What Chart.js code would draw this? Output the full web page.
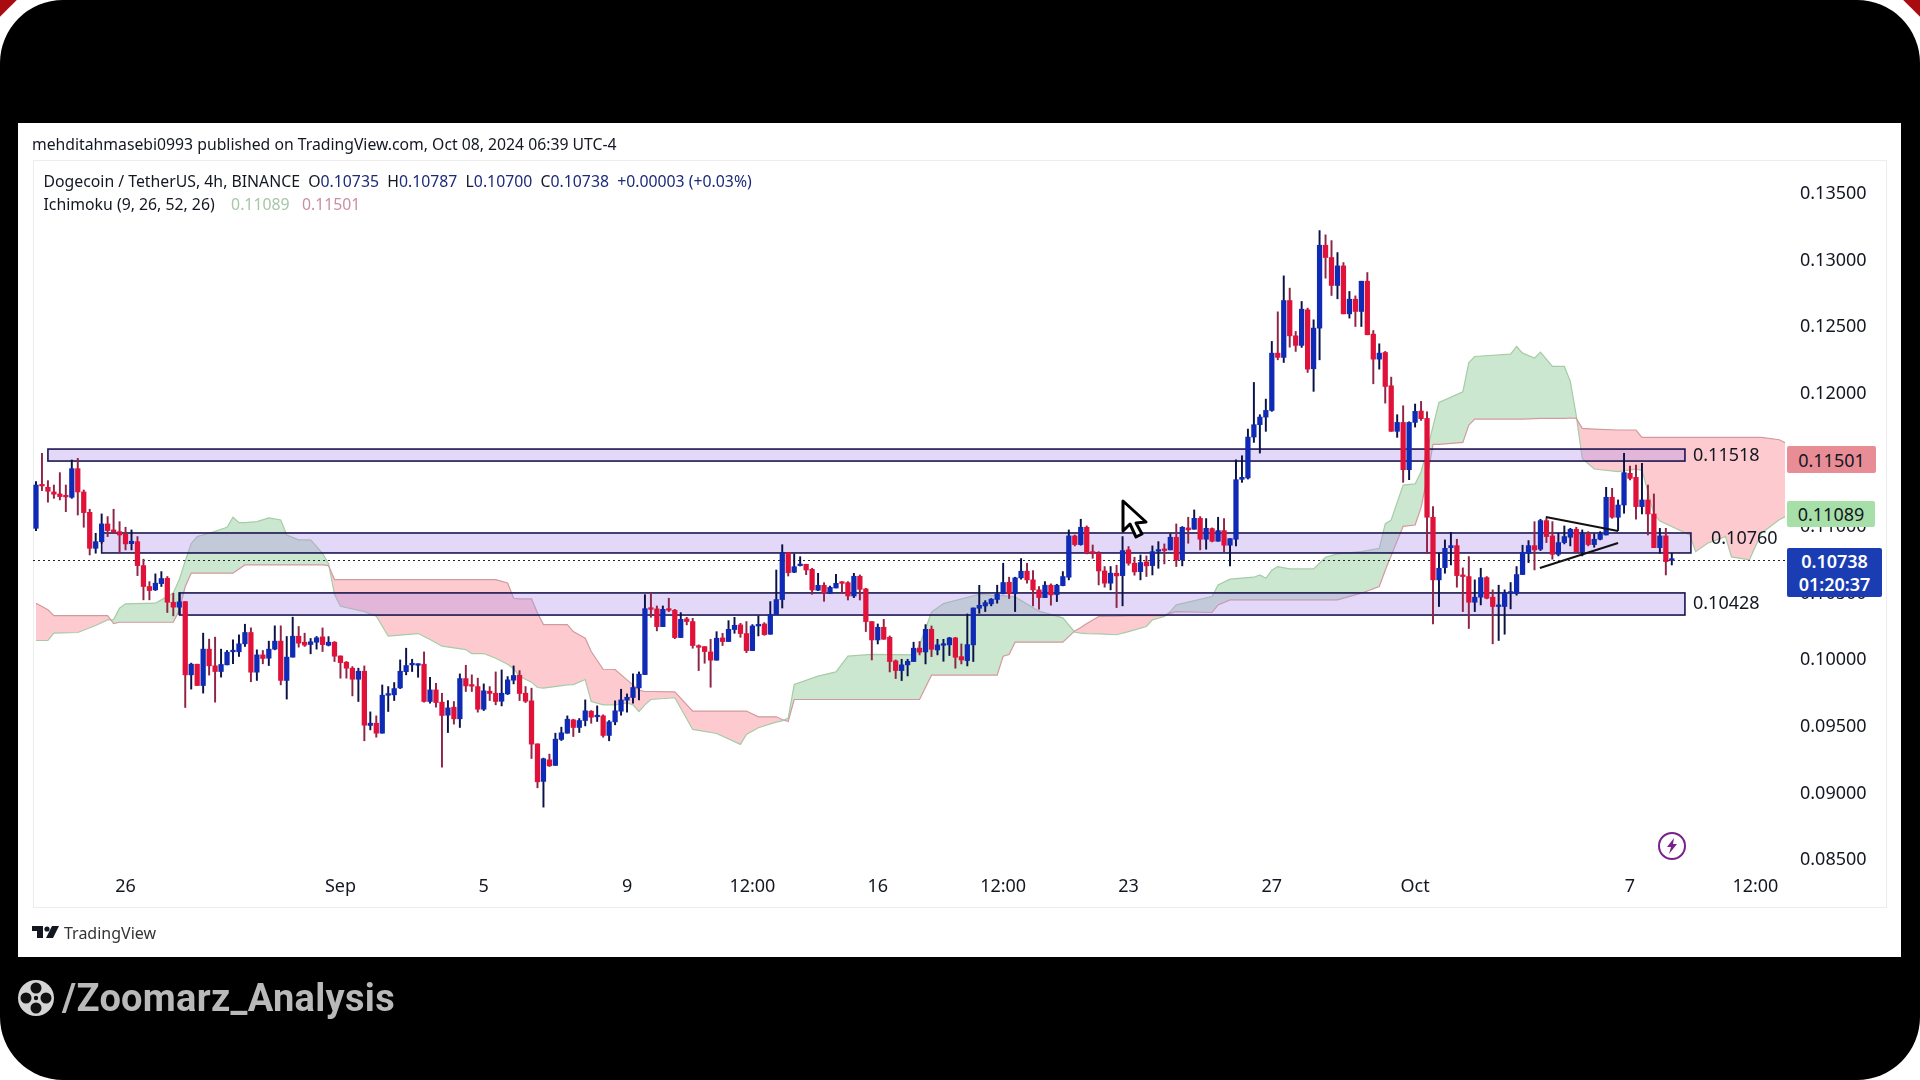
<!DOCTYPE html>
<html><head><meta charset="utf-8">
<script src="https://cdn.jsdelivr.net/npm/chart.js@4/dist/chart.umd.js"></script>
<style>
html,body{margin:0;padding:0;width:1920px;height:1080px;overflow:hidden;background:#fff;position:relative}
.abs{position:absolute;white-space:nowrap}
.t{font-family:"Noto Sans",sans-serif;color:#131722;line-height:1}
#frame{position:absolute;left:0;top:0;width:1920px;height:1080px;background:#000;border-radius:63px}
#panel{position:absolute;left:18px;top:123px;width:1883px;height:834px;background:#fff}
#inner{position:absolute;left:32.5px;top:160px;width:1854px;height:748px;border:1px solid #ececec;box-sizing:border-box}
canvas{position:absolute;left:0;top:0}
.tag{position:absolute;display:flex;align-items:center;justify-content:center;font-family:"Noto Sans",sans-serif;font-size:18px;color:#131722;border-radius:2px}
</style></head><body>
<div class="abs" style="left:1896px;top:0;width:24px;height:24px;background:#a80c10;clip-path:polygon(30% 0,100% 0,100% 70%)"></div>
<div class="abs" style="left:0;top:0;width:24px;height:24px;background:#a80c10;clip-path:polygon(0 0,70% 0,0 70%)"></div>
<div id="frame"></div><div id="panel"></div><div id="inner"></div>
<canvas id="c" width="1920" height="1080"></canvas>

<div class="abs t" id="h0" style="left:32px;top:137px;font-size:15.76px">mehditahmasebi0993 published on TradingView.com, Oct 08, 2024 06:39 UTC-4</div>
<div class="abs t" style="left:43.5px;top:174px;font-size:15.8px">Dogecoin / TetherUS, 4h, BINANCE&nbsp; O<span style="color:#1c2a7a">0.10735</span>&nbsp; H<span style="color:#1c2a7a">0.10787</span>&nbsp; L<span style="color:#1c2a7a">0.10700</span>&nbsp; C<span style="color:#1c2a7a">0.10738</span>&nbsp; <span style="color:#1c2a7a">+0.00003 (+0.03%)</span></div>
<div class="abs t" style="left:43.5px;top:197px;font-size:15.8px">Ichimoku (9, 26, 52, 26)&nbsp;&nbsp;&nbsp; <span style="color:#a6c6a6">0.11089</span>&nbsp;&nbsp; <span style="color:#c98fa4">0.11501</span></div>

<div class="abs t" style="left:1693px;top:445px;font-size:18px">0.11518</div>
<div class="abs t" style="left:1711px;top:528px;font-size:18px">0.10760</div>
<div class="abs t" style="left:1693px;top:593px;font-size:18px">0.10428</div>

<div class="tag" style="left:1787px;top:446px;width:89px;height:27px;background:#e88c96">0.11501</div>
<div class="tag" style="left:1787px;top:501px;width:88px;height:26px;background:#a6dfa8">0.11089</div>
<div class="tag" style="left:1787px;top:548px;width:95px;height:49px;background:#1a3db4;color:#fff;line-height:23px;text-align:center;font-weight:600">0.10738<br>01:20:37</div>

<svg class="abs" style="left:1120px;top:498px" width="30" height="44"><path d="M3 3 L3 33 L10 26 L16 39 L22 36 L16 25 L26 24 Z" fill="#fff" stroke="#000" stroke-width="3" stroke-linejoin="round"/></svg>
<svg class="abs" style="left:1657px;top:831px" width="30" height="30"><circle cx="15" cy="15" r="13" fill="#fff" stroke="#7a1f8e" stroke-width="2"/><path d="M17 7 L10 16 L14 16 L12 23 L20 13 L16 13 Z" fill="#7a1f8e"/></svg>

<svg class="abs" style="left:32px;top:925px" width="28" height="15"><path d="M0 1 H11 V13 H5 V6 H0 Z" fill="#131722"/><circle cx="15" cy="4" r="2.6" fill="#131722"/><path d="M20 1 H27 L21 13 H14 Z" fill="#131722"/></svg>
<div class="abs t" style="left:64px;top:925px;font-size:16px;color:#333">TradingView</div>

<svg class="abs" style="left:14px;top:976px" width="44" height="44"><circle cx="22" cy="22" r="18" fill="#d4d4d4"/><g fill="#111"><circle cx="22" cy="12" r="5.5"/><circle cx="22" cy="32" r="5.5"/><circle cx="12" cy="22" r="5.5"/><circle cx="32" cy="22" r="5.5"/></g><circle cx="22" cy="22" r="2.2" fill="#111"/></svg>
<div class="abs" style="left:62px;top:978px;font-family:Roboto,sans-serif;font-weight:700;font-size:38px;letter-spacing:.3px;line-height:40px;color:#b9b9b9">/Zoomarz_Analysis</div>

<script>
const opens=[
0.10975,0.113,0.11283,0.11248,0.11233,0.11218,0.11208,0.11423,0.11248,0.11095,
0.10825,0.10875,0.11008,0.10963,0.1095,0.10933,0.1086,0.10875,0.10695,0.10538,
0.10513,0.1056,0.106,0.1042,0.10383,0.10425,0.09875,0.09955,0.09795,0.10068,
0.09943,0.099,0.0995,0.10048,0.10048,0.10108,0.10193,0.09895,0.10025,0.1,
0.10068,0.10128,0.09833,0.10008,0.10165,0.1012,0.10103,0.1012,0.1016,0.10097,
0.1012,0.10017,0.0997,0.09925,0.09842,0.09902,0.09495,0.09512,0.09437,0.09722,
0.09725,0.09777,0.09899,0.0995,0.09947,0.09955,0.09675,0.09762,0.0967,0.09572,
0.09632,0.09545,0.09847,0.09797,0.09787,0.09617,0.09752,0.09737,0.09677,0.09732,
0.09835,0.09872,0.09737,0.0968,0.09357,0.09075,0.09237,0.09195,0.0939,0.09437,
0.09537,0.0948,0.09532,0.09602,0.0956,0.09567,0.0942,0.09522,0.09602,0.09685,
0.09705,0.09777,0.09877,0.10375,0.1037,0.10237,0.10367,0.1036,0.10155,0.10295,
0.10275,0.10092,0.10087,0.10047,0.09985,0.10152,0.10125,0.10215,0.1025,0.10185,
0.10057,0.10242,0.10257,0.1018,0.10327,0.1044,0.10792,0.10645,0.10695,0.10705,
0.10667,0.1051,0.10547,0.10487,0.10527,0.10567,0.10567,0.10467,0.10615,0.1052,
0.10275,0.10137,0.10232,0.10157,0.0998,0.09907,0.0995,0.09975,0.10075,0.10047,
0.10217,0.10062,0.10097,0.101,0.10152,0.10012,0.09982,0.101,0.10375,0.10392,
0.10408,0.10441,0.10485,0.1057,0.10485,0.10603,0.10653,0.10588,0.10513,0.10455,
0.10548,0.10478,0.10545,0.10608,0.10918,0.10853,0.10983,0.10798,0.10788,0.10655,
0.10563,0.10638,0.1062,0.10813,0.10713,0.1065,0.10723,0.10695,0.10803,0.10815,
0.10813,0.10908,0.10738,0.10978,0.10968,0.1105,0.10893,0.10973,0.10878,0.10958,
0.10848,0.10893,0.11343,0.11353,0.1166,0.11753,0.1181,0.1186,0.1229,0.12258,
0.12685,0.1242,0.12348,0.12615,0.12173,0.12478,0.131,0.13008,0.12798,0.12945,
0.12585,0.12695,0.12603,0.1283,0.12433,0.12245,0.12295,0.12045,0.11703,0.1177,
0.11415,0.1177,0.11855,0.118,0.11058,0.10588,0.1068,0.1083,0.10845,0.1062,
0.10613,0.1042,0.10458,0.10605,0.10458,0.10388,0.10388,0.10488,0.10488,0.10628,
0.10788,0.10845,0.10818,0.11033,0.10918,0.1078,0.10868,0.10908,0.10968,0.108,
0.10933,0.10853,0.10893,0.10925,0.11208,0.11058,0.1115,0.11388,0.11358,0.11138,
0.11188,0.11083,0.1083,0.10918,0.10735];
const closes=[
0.113,0.11293,0.11253,0.11231,0.11213,0.11211,0.11423,0.11248,0.11093,0.10825,
0.10875,0.11008,0.10958,0.10948,0.10925,0.10858,0.10878,0.10695,0.10538,0.10508,
0.10563,0.10598,0.1042,0.10383,0.10423,0.09875,0.09955,0.09795,0.10068,0.09943,
0.099,0.09953,0.10045,0.10058,0.10108,0.10193,0.09895,0.10025,0.09998,0.10068,
0.10128,0.09833,0.10008,0.10165,0.10113,0.10098,0.10123,0.10153,0.10102,0.1012,
0.10015,0.09967,0.09925,0.09842,0.09902,0.09497,0.09512,0.09437,0.09722,0.0973,
0.09772,0.09902,0.09945,0.09957,0.09952,0.09675,0.09762,0.09667,0.0957,0.09627,
0.09545,0.09847,0.09792,0.0979,0.09617,0.09755,0.09735,0.09675,0.09737,0.09837,
0.0987,0.09735,0.09677,0.09355,0.09072,0.09245,0.09192,0.09392,0.0944,0.09542,
0.0948,0.09532,0.09605,0.09557,0.09567,0.0942,0.09522,0.09605,0.09687,0.09707,
0.0978,0.0988,0.10372,0.10367,0.10237,0.10367,0.1036,0.10155,0.10292,0.10275,
0.10095,0.10082,0.1005,0.09985,0.1015,0.10125,0.10217,0.10247,0.10185,0.10057,
0.10242,0.10252,0.10177,0.10327,0.1044,0.10792,0.10642,0.10687,0.10705,0.10662,
0.10512,0.10547,0.10492,0.10532,0.10562,0.10562,0.10467,0.10615,0.10517,0.10275,
0.10137,0.10232,0.10142,0.09975,0.09907,0.0995,0.09977,0.10075,0.10045,0.10217,
0.10067,0.101,0.10105,0.10152,0.10007,0.09987,0.10102,0.10377,0.10397,0.10417,
0.10443,0.10483,0.10568,0.10485,0.10603,0.10653,0.10588,0.10513,0.10455,0.10548,
0.10475,0.10548,0.10613,0.10918,0.10853,0.10983,0.10793,0.10788,0.10655,0.10563,
0.10638,0.10618,0.10808,0.10713,0.10648,0.10718,0.10693,0.108,0.10813,0.10808,
0.10908,0.10738,0.10983,0.10963,0.1105,0.10893,0.10975,0.10878,0.10958,0.10848,
0.10898,0.1134,0.11358,0.1166,0.11753,0.1181,0.1186,0.1229,0.12258,0.12685,
0.1242,0.12348,0.1262,0.1217,0.12478,0.131,0.13008,0.12798,0.12945,0.12585,
0.12695,0.12603,0.1283,0.12428,0.12245,0.1229,0.1204,0.11703,0.1177,0.11415,
0.1177,0.11853,0.11798,0.11058,0.10588,0.10675,0.10825,0.10845,0.1062,0.10613,
0.1042,0.10458,0.10605,0.1045,0.10388,0.10393,0.10488,0.10498,0.10628,0.10795,
0.10845,0.10813,0.11033,0.10913,0.1078,0.10868,0.10913,0.10968,0.108,0.10933,
0.10853,0.10893,0.10933,0.11208,0.11058,0.1115,0.11393,0.1135,0.11138,0.11188,
0.11083,0.1083,0.10918,0.10725,0.10738];
const highs=[
0.11325,0.11538,0.11333,0.113,0.11393,0.113,0.11488,0.115,0.11263,0.11118,
0.10938,0.11083,0.11063,0.11118,0.11025,0.10983,0.10963,0.10913,0.10743,0.10575,
0.10633,0.1065,0.10613,0.10488,0.10493,0.10425,0.09963,0.09955,0.10188,0.10143,
0.10158,0.10068,0.10058,0.10138,0.10175,0.10255,0.10228,0.10063,0.10058,0.10128,
0.10243,0.10243,0.10163,0.10308,0.10238,0.10188,0.10148,0.10163,0.10227,0.10162,
0.10125,0.10017,0.09975,0.09937,0.09925,0.09942,0.09597,0.09567,0.09799,0.09787,
0.09817,0.09987,0.10075,0.09992,0.09957,0.10047,0.09857,0.09812,0.09737,0.09682,
0.09675,0.09882,0.09947,0.09875,0.0985,0.09807,0.09787,0.09897,0.09912,0.09862,
0.09942,0.09907,0.09787,0.09775,0.09357,0.0925,0.0928,0.09437,0.09482,0.09567,
0.09542,0.09547,0.09687,0.09607,0.09642,0.09575,0.09532,0.0968,0.09767,0.09732,
0.09882,0.09897,0.10477,0.10492,0.10392,0.10392,0.1045,0.10367,0.10342,0.10307,
0.10299,0.101,0.10087,0.10142,0.10199,0.10187,0.10282,0.10307,0.10262,0.10275,
0.10252,0.10317,0.10267,0.10425,0.10662,0.10852,0.10792,0.10782,0.10762,0.10705,
0.10675,0.10637,0.10567,0.10542,0.1063,0.10575,0.10575,0.10637,0.10625,0.10525,
0.10275,0.10257,0.10292,0.10167,0.09987,0.09992,0.09992,0.1012,0.10125,0.10252,
0.10242,0.10142,0.10142,0.10157,0.10157,0.10107,0.10332,0.10377,0.10547,0.10432,
0.10448,0.10548,0.10713,0.10608,0.10608,0.10748,0.10713,0.10658,0.10538,0.10575,
0.10558,0.10555,0.1065,0.10963,0.10925,0.11043,0.10993,0.1085,0.108,0.10688,
0.10688,0.10698,0.10913,0.10838,0.10758,0.10775,0.10768,0.10843,0.10875,0.10858,
0.10933,0.11008,0.10988,0.11058,0.11113,0.11063,0.11048,0.10978,0.11058,0.11048,
0.10898,0.1149,0.1152,0.1172,0.1207,0.11828,0.11945,0.12378,0.126,0.1287,
0.12778,0.12453,0.12678,0.12628,0.1254,0.1321,0.13178,0.13135,0.13045,0.1297,
0.12753,0.1272,0.1283,0.12895,0.1246,0.1236,0.12303,0.1211,0.11828,0.11895,
0.11775,0.11908,0.11928,0.1185,0.11138,0.10788,0.10888,0.10945,0.10893,0.10678,
0.10763,0.10588,0.10675,0.10613,0.10513,0.10548,0.10513,0.10568,0.10688,0.10848,
0.10883,0.11025,0.11043,0.1105,0.11025,0.10938,0.10993,0.10975,0.10983,0.10963,
0.1095,0.10933,0.1095,0.11283,0.11275,0.11188,0.11538,0.11443,0.1145,0.11463,
0.113,0.11233,0.10975,0.10975,0.10787];
const lows=[
0.10958,0.11258,0.11171,0.112,0.11188,0.111,0.112,0.11075,0.10983,0.10775,
0.10788,0.10863,0.10913,0.10938,0.10788,0.10813,0.10813,0.1062,0.10438,0.10438,
0.10508,0.10538,0.10343,0.10318,0.10325,0.0963,0.09768,0.09795,0.09738,0.09873,
0.0967,0.09858,0.0995,0.09958,0.10013,0.10088,0.09823,0.09833,0.09958,0.09945,
0.10063,0.098,0.09693,0.10008,0.10083,0.10088,0.10033,0.10068,0.1005,0.10092,
0.09975,0.0985,0.0985,0.09717,0.09675,0.0938,0.09462,0.09407,0.09437,0.096,
0.09682,0.09772,0.09875,0.099,0.09857,0.0967,0.09662,0.09632,0.09182,0.09442,
0.09505,0.0948,0.0975,0.0975,0.09595,0.09607,0.09682,0.0965,0.09642,0.09727,
0.09807,0.09682,0.09667,0.09247,0.09027,0.08882,0.09187,0.09195,0.09382,0.09437,
0.09412,0.09442,0.09492,0.09512,0.09525,0.09407,0.0938,0.095,0.09572,0.09595,
0.09662,0.09687,0.09877,0.10307,0.10205,0.10237,0.1035,0.10147,0.10155,0.1025,
0.10075,0.09907,0.09962,0.09782,0.09985,0.10095,0.10125,0.10187,0.10157,0.10042,
0.10057,0.10167,0.10172,0.1018,0.10327,0.10377,0.10617,0.10642,0.10692,0.10627,
0.1048,0.10507,0.10427,0.10487,0.10527,0.10487,0.10437,0.10455,0.10437,0.102,
0.09987,0.10107,0.10142,0.09897,0.09847,0.09832,0.09867,0.09975,0.10025,0.09957,
0.10012,0.10025,0.09977,0.1002,0.09925,0.09957,0.09942,0.09975,0.10337,0.1035,
0.10393,0.10413,0.10483,0.10448,0.1035,0.10593,0.10563,0.10393,0.10368,0.10455,
0.10398,0.10425,0.10543,0.10588,0.10843,0.10848,0.10783,0.1075,0.1055,0.10533,
0.10513,0.1038,0.10393,0.10698,0.10623,0.10588,0.10613,0.10625,0.10675,0.10708,
0.10813,0.10688,0.10693,0.10863,0.10968,0.10813,0.10818,0.10873,0.10878,0.108,
0.10693,0.10843,0.1132,0.11345,0.1162,0.1154,0.11703,0.11853,0.1224,0.1222,
0.12335,0.12303,0.12333,0.12145,0.12003,0.1224,0.12853,0.12723,0.12698,0.12585,
0.12553,0.1249,0.1249,0.12428,0.1206,0.1217,0.11915,0.11703,0.11658,0.1132,
0.1134,0.11735,0.11785,0.10788,0.10258,0.10388,0.10638,0.107,0.10533,0.1035,
0.10223,0.1035,0.104,0.10445,0.10108,0.10133,0.1018,0.1037,0.10473,0.10628,
0.10718,0.10663,0.10808,0.10868,0.10743,0.10768,0.10858,0.10843,0.10793,0.10768,
0.10843,0.10833,0.10888,0.10925,0.1105,0.10958,0.11088,0.11338,0.11043,0.11083,
0.10925,0.1083,0.10788,0.10625,0.107];

const cloudIdx=[0,2,3,7,10,12,13,14,15,20,21,23,24,25,26,27,29,32,33,34,35,37,39,41,42,44,46,48,49,50,51,55,57,59,64,66,68,72,73,75,77,79,80,81,83,84,85,89,90,92,93,95,97,99,100,101,102,103,107,110,114,118,119,121,124,125,126,127,131,134,136,140,147,148,150,152,158,161,162,163,164,168,172,174,175,176,178,181,183,186,187,189,190,191,197,198,200,204,205,206,207,208,210,214,216,218,222,225,226,227,229,231,232,233,234,235,239,240,241,247,248,249,251,252,254,256,257,258,259,261,265,268,269,270,271,272,277,278,280,283,284,287,289,292,293];
const spanA=[0.10133,0.10133,0.10188,0.10193,0.10245,0.10288,0.1029,0.10375,0.10408,0.10413,0.10438,0.1049,0.1059,0.1073,0.1086,0.10913,0.10938,0.10983,0.11058,0.11018,0.11018,0.11025,0.11053,0.11038,0.10925,0.10888,0.10888,0.10788,0.1071,0.1048,0.1039,0.1035,0.10315,0.10165,0.10185,0.1014,0.1009,0.10065,0.10035,0.10035,0.1,0.09955,0.0992,0.09865,0.0982,0.0978,0.09775,0.098,0.09802,0.0984,0.09675,0.0965,0.0965,0.09665,0.0965,0.096,0.0965,0.0969,0.09703,0.09465,0.09435,0.09353,0.09428,0.09478,0.0952,0.0953,0.0955,0.09803,0.09865,0.09897,0.10015,0.10028,0.10025,0.101,0.10345,0.1041,0.1048,0.1047,0.1047,0.10465,0.1046,0.10353,0.10303,0.10195,0.10188,0.10185,0.10182,0.10176,0.102,0.10238,0.10288,0.10313,0.1035,0.104,0.10463,0.1055,0.10593,0.10608,0.10625,0.106,0.1066,0.10688,0.1067,0.1067,0.10758,0.10783,0.108,0.10825,0.11008,0.11038,0.113,0.11308,0.114,0.1156,0.1174,0.1192,0.12,0.1222,0.12265,0.12283,0.1234,0.1229,0.12253,0.12298,0.1219,0.1219,0.12078,0.1182,0.115,0.1142,0.114,0.1142,0.1141,0.1125,0.1108,0.1103,0.10925,0.108,0.10863,0.10913,0.1076,0.10738,0.10938,0.1104,0.11063];
const spanB=[0.10413,0.10363,0.1032,0.1032,0.1032,0.1032,0.1026,0.1027,0.1027,0.1027,0.1027,0.1027,0.1036,0.10538,0.10638,0.10638,0.10638,0.10638,0.10638,0.1067,0.107,0.107,0.107,0.107,0.107,0.107,0.107,0.107,0.10695,0.1059,0.1059,0.1059,0.1059,0.1059,0.1059,0.1059,0.1059,0.1059,0.1059,0.1059,0.1059,0.10565,0.1045,0.10445,0.10445,0.1034,0.10252,0.10252,0.102,0.1015,0.1005,0.09917,0.09915,0.09837,0.098,0.0976,0.0975,0.0975,0.09747,0.09603,0.09603,0.09603,0.09603,0.0956,0.0956,0.0954,0.09525,0.0969,0.0969,0.0969,0.0969,0.0969,0.0969,0.0969,0.09873,0.09873,0.09873,0.09873,0.10015,0.10028,0.1012,0.1012,0.1012,0.10205,0.1023,0.1026,0.10313,0.10315,0.1032,0.1032,0.1032,0.1032,0.10338,0.1035,0.10343,0.104,0.10438,0.10438,0.10438,0.10438,0.10438,0.10438,0.10438,0.10438,0.10438,0.10438,0.10488,0.10538,0.1066,0.1077,0.1099,0.11,0.1113,0.1135,0.11605,0.11605,0.1162,0.1175,0.11795,0.11795,0.11795,0.11795,0.11798,0.118,0.118,0.118,0.11803,0.118,0.11725,0.1172,0.11713,0.11713,0.11658,0.11658,0.11658,0.11658,0.11658,0.11658,0.11658,0.11658,0.11658,0.11658,0.11658,0.1164,0.11618];

const xTickIdx=[15,51,75,99,120,141,162,183,207,231,267,288];
const xTickLabels=["26","Sep","5","9","12:00","16","12:00","23","27","Oct","7","12:00"];
const yTickVals=[0.135,0.13,0.125,0.12,0.115,0.11,0.105,0.1,0.095,0.09,0.085];
const yTickLabels=["0.13500","0.13000","0.12500","0.12000","0.11500","0.11000","0.10500","0.10000","0.09500","0.09000","0.08500"];

const zoneStart=[2,11,24.1];
const zoneEnd=[276.2,277.2,276.2];
const zoneTop=[0.1157,0.1094,0.1049];
const zoneBottom=[0.1148,0.1079,0.10324];
const trendX1=[252.9,251.9];
const trendY1=[0.1106,0.10677];
const trendX2=[265,265];
const trendY2=[0.10955,0.10865];
const lastPrice=0.10738;

const UP='#0f2bb5',DOWN='#e1123a',UPW='#0b1248',DOWNW='#8f2546';
const idx=opens.map((_,i)=>i);
const bodyColor=idx.map(i=>closes[i]>=opens[i]?UP:DOWN);
const wickColor=idx.map(i=>closes[i]>=opens[i]?UPW:DOWNW);

const zonesPlugin={id:'zones',
 beforeDraw(chart){
  // fine vertical placement of the axis texts
  chart.scales.y.getLabelItems(chart.chartArea).forEach(it=>{it.options.translation[1]=it.options.translation[1]+2;});
  chart.scales.x.getLabelItems(chart.chartArea).forEach(it=>{it.options.translation[1]=it.options.translation[1]-2;});
 },
 afterDatasetDraw(chart,args){
  if(chart.data.datasets[args.index].label!=='Senkou B')return;
  const {x,y}=chart.scales,ctx=chart.ctx,a=chart.chartArea;
  ctx.save();ctx.beginPath();ctx.rect(a.left,a.top,a.width,a.height);ctx.clip();
  zoneTop.forEach((t,k)=>{
   const x0=x.getPixelForValue(zoneStart[k]),x1=x.getPixelForValue(zoneEnd[k]);
   const y0=y.getPixelForValue(t),y1=y.getPixelForValue(zoneBottom[k]);
   ctx.fillStyle='rgba(178,150,232,0.37)';ctx.fillRect(x0,y0,x1-x0,y1-y0);
   ctx.strokeStyle='#1b1650';ctx.lineWidth=1.6;ctx.strokeRect(x0,y0,x1-x0,y1-y0);
  });
  const ly=Math.round(y.getPixelForValue(lastPrice))+.5;
  ctx.strokeStyle='#222';ctx.lineWidth=1;ctx.setLineDash([2,3]);
  ctx.beginPath();ctx.moveTo(a.left,ly);ctx.lineTo(a.right,ly);ctx.stroke();
  ctx.restore();
 },
 afterDatasetsDraw(chart){
  const {x,y}=chart.scales,ctx=chart.ctx;
  ctx.save();ctx.strokeStyle='#111';ctx.lineWidth=2;
  trendX1.forEach((v,k)=>{
   ctx.beginPath();ctx.moveTo(x.getPixelForValue(v),y.getPixelForValue(trendY1[k]));
   ctx.lineTo(x.getPixelForValue(trendX2[k]),y.getPixelForValue(trendY2[k]));ctx.stroke();
  });
  ctx.restore();
 }};

const tickFont={family:'"Noto Sans",sans-serif',size:18};
new Chart(document.getElementById('c'),{
 type:'bar',
 plugins:[zonesPlugin],
 data:{datasets:[
  {label:'Body',order:1,grouped:false,barThickness:4.6,minBarLength:1.6,borderWidth:0,
   backgroundColor:bodyColor,data:idx.map(i=>({x:i,y:[opens[i],closes[i]]}))},
  {label:'Wick',order:5,grouped:false,barThickness:1.3,borderWidth:0,
   backgroundColor:wickColor,data:idx.map(i=>({x:i,y:[lows[i],highs[i]]}))},
  {type:'line',label:'Senkou A',order:20,borderColor:'#a6cca6',borderWidth:1.2,pointRadius:0,tension:0,
   data:cloudIdx.map((v,k)=>({x:v,y:spanA[k]})),
   fill:{target:'+1',above:'rgba(125,195,135,0.40)',below:'rgba(248,140,150,0.46)'}},
  {type:'line',label:'Senkou B',order:19,borderColor:'#d29a9e',borderWidth:1.2,pointRadius:0,tension:0,fill:false,
   data:cloudIdx.map((v,k)=>({x:v,y:spanB[k]}))}
 ]},
 options:{responsive:false,animation:false,devicePixelRatio:1,
  layout:{padding:{left:33,top:160,right:30,bottom:172}},
  plugins:{legend:{display:false},tooltip:{enabled:false},title:{display:false}},
  scales:{
   x:{type:'linear',min:-0.5,max:292.96,offset:false,
    grid:{display:false},border:{display:false},
    afterBuildTicks:s=>{s.ticks=xTickIdx.map(v=>({value:v}));},
    afterFit:s=>{s.height=38;},
    ticks:{autoSkip:false,maxRotation:0,minRotation:0,padding:0,font:tickFont,color:'#131722',
     callback:v=>xTickLabels[xTickIdx.indexOf(v)]}},
   y:{type:'linear',position:'right',min:0.08410,max:0.13740,
    grid:{display:false},border:{display:false},
    afterBuildTicks:s=>{s.ticks=yTickVals.map(v=>({value:v}));},
    afterFit:s=>{s.width=105;},
    ticks:{autoSkip:false,padding:7,font:tickFont,color:'#131722',
     callback:v=>yTickLabels[yTickVals.indexOf(v)]}}
  }}
});
</script>
</body></html>
